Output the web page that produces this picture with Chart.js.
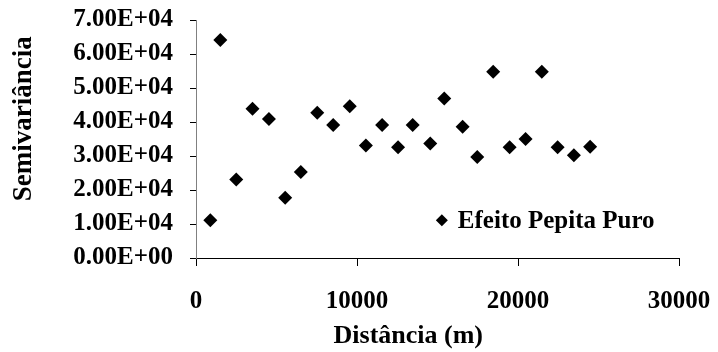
<!DOCTYPE html>
<html>
<head>
<meta charset="utf-8">
<script src="https://cdn.jsdelivr.net/npm/chart.js@4.4.1/dist/chart.umd.min.js"></script>
<style>
  html, body { margin: 0; padding: 0; background: #fff; }
  #wrap { width: 718px; height: 352px; position: relative; }
</style>
</head>
<body>
<div id="wrap"><canvas id="chart"></canvas></div>
<script>
// lag distance (m) and experimental semivariance
const distances = [890, 1510, 2500, 3510, 4530, 5540, 6510, 7530, 8520, 9550,
  10550, 11560, 12550, 13460, 14550, 15420, 16560, 17470, 18460, 19480,
  20470, 21480, 22460, 23470, 24480];
const semivariance = [11100, 64100, 23100, 43900, 40900, 17700, 25300, 42700, 39100, 44600,
  33100, 39100, 32600, 39100, 33700, 46900, 38600, 29700, 54800, 32600,
  35000, 54800, 32600, 30200, 32700];

const seriesLabel = 'Efeito Pepita Puro';
const xTitle = 'Distância (m)';
const yTitle = 'Semivariância';
const xTicks = [0, 10000, 20000, 30000];
const yTicks = [0, 10000, 20000, 30000, 40000, 50000, 60000, 70000];

const FONT = "'Liberation Serif', 'Times New Roman', serif";

// Excel style 7.00E+04
function sci(v) {
  if (v === 0) return '0.00E+00';
  const exp = Math.floor(Math.log10(Math.abs(v)));
  const mant = v / Math.pow(10, exp);
  return mant.toFixed(2) + 'E' + (exp < 0 ? '-' : '+') + String(Math.abs(exp)).padStart(2, '0');
}

// legend sits inside the plot, lower right
const insideLegend = {
  id: 'insideLegend',
  afterDraw(chart) {
    const { ctx, chartArea } = chart;
    const ds = chart.data.datasets[0];
    const x = chartArea.left + chartArea.width * 0.509;
    const y = chartArea.top + chartArea.height * 0.841;
    const r = 6;
    ctx.save();
    ctx.fillStyle = '#000';
    ctx.beginPath();
    ctx.moveTo(x - r, y);
    ctx.lineTo(x, y - r);
    ctx.lineTo(x + r, y);
    ctx.lineTo(x, y + r);
    ctx.closePath();
    ctx.fill();
    ctx.font = 'bold 25px ' + FONT;
    ctx.textBaseline = 'middle';
    ctx.textAlign = 'left';
    ctx.fillText(ds.label, x + 16, y + 1);
    ctx.restore();
  }
};

new Chart(document.getElementById('chart'), {
  type: 'scatter',
  data: {
    datasets: [{
      label: seriesLabel,
      data: distances.map((d, i) => ({ x: d, y: semivariance[i] })),
      pointStyle: 'rectRot',
      pointRadius: 7,
      pointHoverRadius: 7,
      backgroundColor: '#000',
      borderColor: '#000',
      borderWidth: 0
    }]
  },
  options: {
    responsive: true,
    maintainAspectRatio: false,
    animation: false,
    layout: { padding: { left: 0, right: 39, top: 20, bottom: 0 } },
    plugins: {
      legend: { display: false },
      tooltip: { enabled: false }
    },
    scales: {
      x: {
        type: 'linear',
        min: xTicks[0],
        max: xTicks[xTicks.length - 1],
        afterBuildTicks: (scale) => { scale.ticks = xTicks.map(v => ({ value: v })); },
        afterFit: (scale) => {
          scale.height = 94;
          scale.paddingLeft = 0;
          scale.paddingRight = 0;
        },
        ticks: {
          color: '#000',
          padding: 21,
          maxRotation: 0,
          autoSkip: false,
          font: { family: FONT, size: 25, weight: 'bold' },
          callback: (v) => String(v)
        },
        grid: { drawOnChartArea: false, drawTicks: true, tickLength: 8, color: '#000' },
        border: { color: '#000', width: 1 },
        title: {
          display: true,
          text: xTitle + '         ',
          color: '#000',
          padding: { top: 0, bottom: 0 },
          font: { family: FONT, size: 26, weight: 'bold' }
        }
      },
      y: {
        min: yTicks[0],
        max: yTicks[yTicks.length - 1],
        afterBuildTicks: (scale) => { scale.ticks = yTicks.map(v => ({ value: v })); },
        afterFit: (scale) => {
          scale.width = 196;
          scale.paddingTop = 0;
          scale.paddingBottom = 0;
        },
        ticks: {
          color: '#000',
          padding: 17,
          autoSkip: false,
          font: { family: FONT, size: 25, weight: 'bold' },
          callback: (v) => sci(v)
        },
        grid: { drawOnChartArea: false, drawTicks: true, tickLength: 6, color: '#000' },
        border: { color: '#808080', width: 1 },
        title: {
          display: true,
          text: '      ' + yTitle,
          color: '#000',
          padding: { top: 8, bottom: 0 },
          font: { family: FONT, size: 27, weight: 'bold' }
        }
      }
    }
  },
  plugins: [insideLegend]
});
</script>
</body>
</html>
